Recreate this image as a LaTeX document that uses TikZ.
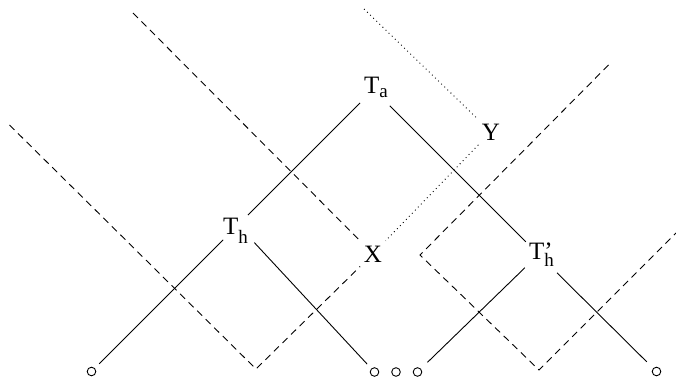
\documentclass[tikz,border=0pt]{standalone}
\usepackage{fontspec}
\setmainfont{Liberation Serif}
\begin{document}
\begin{tikzpicture}[x=1pt,y=-1pt,
  conn/.style={line width=0.9pt},
  dashline/.style={line width=0.9pt, dash pattern=on 7pt off 5pt},
  dotline/.style={line width=0.9pt, dash pattern=on 0.9pt off 3.4pt},
  lbl/.style={font=\fontsize{25}{25}\selectfont, inner sep=0pt, anchor=base west},
  vtx/.style={circle, inner sep=0pt, outer sep=6pt, font=\fontsize{25}{25}\selectfont, anchor=base},
  leaf/.style={circle, draw, line width=0.9pt, minimum size=8.6pt, inner sep=0pt, outer sep=6.5pt}]
\useasboundingbox (0,0) rectangle (676,377);
% vertices where the solid lines meet
\coordinate (vTa) at (373.5,89.5);
\coordinate (vTh) at (238,225);
\coordinate (vTp) at (538.5,254.5);
% labels
\node[lbl] (Ta) at (364,93) {T\raisebox{-4pt}{\fontsize{19}{19}\selectfont a}};
\node[lbl] (Th) at (223,234) {T\raisebox{-9pt}{\fontsize{19}{19}\selectfont h}};
\node[lbl] (Tp) at (529,259) {T\rlap{’}\raisebox{-7pt}{\fontsize{19}{19}\selectfont h}};
\node[vtx] (X) at (373,262) {X};
\node[vtx] (Y) at (491,140) {Y};
% leaves
\node[leaf] (c1) at (91.5,371.5) {};
\node[leaf] (c2) at (374.5,372) {};
\node[leaf] (c3) at (396,372) {};
\node[leaf] (c4) at (417.5,372) {};
\node[leaf] (c5) at (656.5,371.5) {};
% solid tree
\draw[conn, shorten <=19pt, shorten >=14pt] (vTa) -- (vTh);
\draw[conn, shorten <=23pt, shorten >=18pt] (vTa) -- (vTp);
\draw[conn, shorten <=21pt] (vTh) -- (c1);
\draw[conn, shorten <=24pt] (vTh) -- (c2);
\draw[conn, shorten <=19pt, shorten >=3pt] (vTp) -- (c4);
\draw[conn, shorten <=26pt, shorten >=3pt] (vTp) -- (c5);
% dashed lines
\coordinate (d1s) at (9.5,125);
\coordinate (d1v) at (256,369);
\draw[dashline] (d1s) -- (d1v) -- (X);
\coordinate (d2s) at (133,13);
\draw[dashline] (d2s) -- (X);
\coordinate (d3s) at (608.5,65);
\coordinate (d3a) at (420,255);
\coordinate (d3b) at (539,370);
\coordinate (d3e) at (676,233);
\draw[dashline] (d3s) -- (d3a) -- (d3b) -- (d3e);
% dotted lines
\coordinate (dts) at (364,9);
\draw[dotline] (dts) -- (Y);
\draw[dotline] (Y) -- (X);
\end{tikzpicture}
\end{document}
